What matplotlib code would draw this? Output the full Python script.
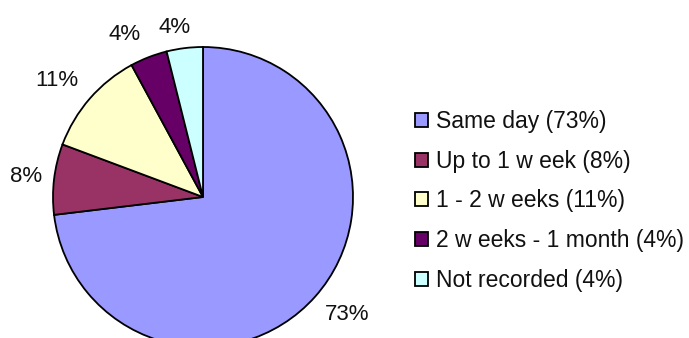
import matplotlib
matplotlib.use("Agg")
import matplotlib.pyplot as plt
import numpy as np

plt.rcParams['font.family'] = ['Liberation Sans', 'DejaVu Sans']

# Time taken, share of cases (%)
categories = ["Same day", "Up to 1 w eek", "1 - 2 w eeks", "2 w eeks - 1 month", "Not recorded"]
shares = [73.1, 7.6, 11.4, 4.0, 3.9]
colors = ["#9999FF", "#993366", "#FFFFCC", "#660066", "#CCFFFF"]

legend_labels = [f"{c} ({v:.0f}%)" for c, v in zip(categories, shares)]

W, H = 689, 338
fig = plt.figure(figsize=(W / 100, H / 100), dpi=100)

# pie centre and radius in pixels
cx, cy, r = 203, 197, 150
ax = fig.add_axes([(cx - r) / W, (H - cy - r) / H, 2 * r / W, 2 * r / H])

wedges, _ = ax.pie(shares, colors=colors, startangle=90, counterclock=False,
                   radius=1.0, center=(0, 0),
                   wedgeprops=dict(edgecolor='black', linewidth=1.3))
ax.set_xlim(-1, 1)
ax.set_ylim(-1, 1)
ax.set_aspect('equal')
ax.axis('off')
for w in wedges:
    w.set_clip_on(False)

# percentage labels placed outside each wedge
label_offsets = [(0.96, -0.78), (-1.177, 0.14), (-0.973, 0.777), (-0.52, 1.08), (-0.187, 1.133)]
for v, (lx, ly) in zip(shares, label_offsets):
    ax.text(lx, ly, f"{v:.0f}%", ha='center', va='center', fontsize=16,
            color='#111111', clip_on=False)

leg = fig.legend(wedges, legend_labels, loc='center left',
                 bbox_to_anchor=(415 / W, (H - 201) / H),
                 frameon=False, fontsize=16.5, borderpad=0, borderaxespad=0,
                 handlelength=0.57, handleheight=0.57, handletextpad=0.35,
                 labelspacing=0.73)
for t in leg.get_texts():
    t.set_color('#111111')

fig.savefig("out.png", dpi=100)
